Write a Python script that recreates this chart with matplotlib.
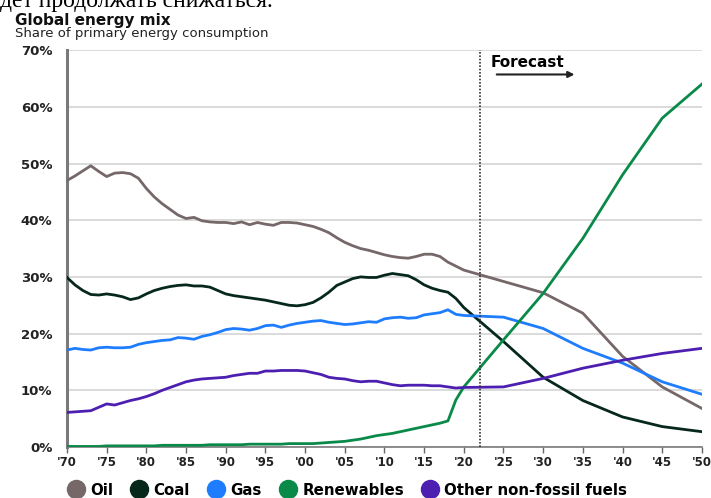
import matplotlib
matplotlib.use("Agg")
import matplotlib.pyplot as plt
from matplotlib.lines import Line2D

# ── data (share of primary energy consumption, %) ─────────────────────────────
years = list(range(1970, 2021)) + [2025, 2030, 2035, 2040, 2045, 2050]

oil = [47.0, 47.8, 48.7, 49.6, 48.6, 47.7, 48.3, 48.4, 48.2, 47.4,
       45.6, 44.1, 42.9, 41.9, 40.9, 40.3, 40.5, 39.9, 39.7, 39.6,
       39.6, 39.4, 39.7, 39.2, 39.6, 39.3, 39.1, 39.6, 39.6, 39.5,
       39.2, 38.9, 38.4, 37.8, 36.9, 36.1, 35.5, 35.0, 34.7, 34.3,
       33.9, 33.6, 33.4, 33.3, 33.6, 34.0, 34.0, 33.6, 32.6, 31.9, 31.2,
       29.2, 27.2, 23.6, 16.0, 10.6, 6.8]
coal = [29.9, 28.6, 27.6, 26.9, 26.8, 27.0, 26.8, 26.5, 26.0, 26.3,
        27.0, 27.6, 28.0, 28.3, 28.5, 28.6, 28.4, 28.4, 28.2, 27.6,
        27.0, 26.7, 26.5, 26.3, 26.1, 25.9, 25.6, 25.3, 25.0, 24.9,
        25.1, 25.5, 26.3, 27.3, 28.5, 29.1, 29.7, 30.0, 29.9, 29.9,
        30.3, 30.6, 30.4, 30.2, 29.5, 28.6, 28.0, 27.6, 27.3, 26.2, 24.6,
        18.6, 12.3, 8.2, 5.3, 3.6, 2.7]
gas = [17.1, 17.4, 17.2, 17.1, 17.5, 17.6, 17.5, 17.5, 17.6, 18.1,
       18.4, 18.6, 18.8, 18.9, 19.3, 19.2, 19.0, 19.5, 19.8, 20.2,
       20.7, 20.9, 20.8, 20.6, 20.9, 21.4, 21.5, 21.1, 21.5, 21.8,
       22.0, 22.2, 22.3, 22.0, 21.8, 21.6, 21.7, 21.9, 22.1, 22.0,
       22.6, 22.8, 22.9, 22.7, 22.8, 23.3, 23.5, 23.7, 24.2, 23.4, 23.2,
       22.9, 20.9, 17.4, 14.8, 11.5, 9.3]
renewables = [0.1, 0.1, 0.1, 0.1, 0.1, 0.2, 0.2, 0.2, 0.2, 0.2,
              0.2, 0.2, 0.3, 0.3, 0.3, 0.3, 0.3, 0.3, 0.4, 0.4,
              0.4, 0.4, 0.4, 0.5, 0.5, 0.5, 0.5, 0.5, 0.6, 0.6,
              0.6, 0.6, 0.7, 0.8, 0.9, 1.0, 1.2, 1.4, 1.7, 2.0,
              2.2, 2.4, 2.7, 3.0, 3.3, 3.6, 3.9, 4.2, 4.6, 8.3, 10.6,
              18.9, 27.1, 36.8, 48.0, 58.0, 64.0]
other = [6.1, 6.2, 6.3, 6.4, 7.0, 7.6, 7.4, 7.8, 8.2, 8.5,
         8.9, 9.4, 10.0, 10.5, 11.0, 11.5, 11.8, 12.0, 12.1, 12.2,
         12.3, 12.6, 12.8, 13.0, 13.0, 13.4, 13.4, 13.5, 13.5, 13.5,
         13.4, 13.1, 12.8, 12.3, 12.1, 12.0, 11.7, 11.5, 11.6, 11.6,
         11.3, 11.0, 10.8, 10.9, 10.9, 10.9, 10.8, 10.8, 10.6, 10.4, 10.5,
         10.6, 12.1, 13.9, 15.3, 16.5, 17.4]

series = [("Oil", oil, "#766869"),
          ("Coal", coal, "#06281a"),
          ("Gas", gas, "#1e7dff"),
          ("Renewables", renewables, "#0a8a48"),
          ("Other non-fossil fuels", other, "#4d1fb0")]

x_ticks = list(range(1970, 2051, 5))
x_labels = ["'" + str(y)[2:] for y in x_ticks]
y_ticks = list(range(0, 71, 10))
y_labels = [f"{v}%" for v in y_ticks]
FORECAST_YEAR = 2022

plt.rcParams['font.family'] = ['DejaVu Sans']

# ── plot ──────────────────────────────────────────────────────────────────────
fig = plt.figure(figsize=(7.11, 4.98), dpi=100)
ax = fig.add_axes([0.0942, 0.1024, 0.893, 0.797])

for name, vals, col in series:
    ax.plot(years, vals, color=col, lw=2.0, solid_joinstyle='round', zorder=3)

ax.axvline(FORECAST_YEAR, color='#333333', ls=(0, (1, 1)), lw=1.2, zorder=4)

ax.set_xlim(1970, 2050)
ax.set_ylim(0, 70)
ax.set_xticks(x_ticks)
ax.set_xticklabels(x_labels, fontsize=8.5, fontweight='bold', color='#222222')
ax.set_yticks(y_ticks)
ax.set_yticklabels(y_labels, fontsize=9.5, fontweight='bold', color='#222222')
ax.yaxis.grid(True, color='#d4d4d4', lw=1.2)
ax.set_axisbelow(True)
ax.tick_params(axis='y', length=0, pad=10.5)
ax.tick_params(axis='x', length=4, width=1, color='#666666', pad=2.5)
for s in ('top', 'right'):
    ax.spines[s].set_visible(False)
ax.spines['left'].set_color('#7a7a7a')
ax.spines['left'].set_linewidth(2.2)
ax.spines['bottom'].set_color('#7a7a7a')
ax.spines['bottom'].set_linewidth(1.2)

# forecast label + arrow
ax.text(2023.4, 67.9, "Forecast", fontsize=11, fontweight='bold', va='center', ha='left')
ax.annotate("", xy=(2034.3, 65.7), xytext=(2023.8, 65.7),
            arrowprops=dict(arrowstyle='-|>', color='#222222', lw=1.5,
                            mutation_scale=9))

# titles
fig.text(0.0, 1.0 - 7 / 498, "дет продолжать снижаться.", family='Liberation Serif',
         fontsize=17, ha='left', va='baseline')
fig.text(15 / 711, 1.0 - 24.5 / 498, "Global energy mix", fontsize=11,
         fontweight='bold', ha='left', va='baseline', color='#111111')
fig.text(15 / 711, 1.0 - 37 / 498, "Share of primary energy consumption",
         fontsize=9.5, ha='left', va='baseline', color='#222222')

handles = [Line2D([], [], ls='none', marker='o', markersize=13, color=c)
           for _, _, c in series]
fig.legend(handles, [n for n, _, _ in series], loc='center left',
           bbox_to_anchor=(66 / 711, 1.0 - 490 / 498), ncol=5, frameon=False,
           handlelength=1.3, handletextpad=0.3, columnspacing=1.1,
           prop=dict(size=10.8, weight='bold'), borderaxespad=0.0,
           borderpad=0.0)

fig.savefig("out.png", dpi=100)
